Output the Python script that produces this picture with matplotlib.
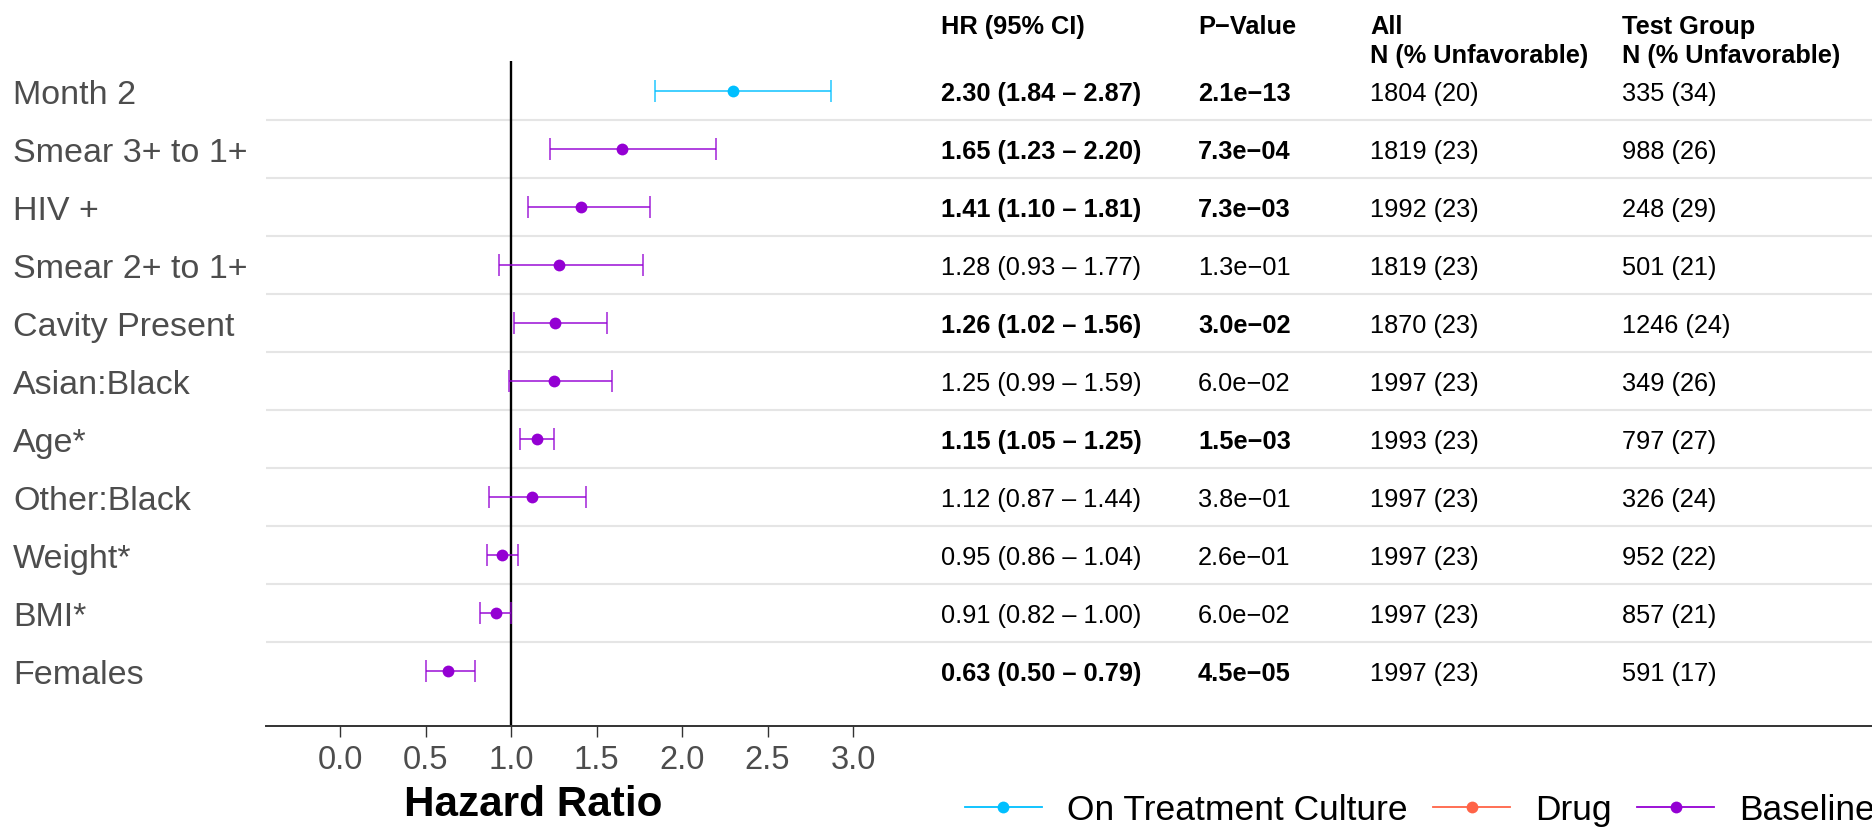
import matplotlib
matplotlib.use("Agg")
import matplotlib.pyplot as plt
from matplotlib.lines import Line2D
from matplotlib.transforms import blended_transform_factory

plt.rcParams["font.family"] = ["Liberation Sans", "DejaVu Sans"]

# ---- data -------------------------------------------------------------
variables = ["Month 2", "Smear 3+ to 1+", "HIV +", "Smear 2+ to 1+",
             "Cavity Present", "Asian:Black", "Age*", "Other:Black",
             "Weight*", "BMI*", "Females"]
groups = ["On Treatment Culture", "Baseline", "Baseline", "Baseline",
          "Baseline", "Baseline", "Baseline", "Baseline", "Baseline",
          "Baseline", "Baseline"]
hr = [2.30, 1.65, 1.41, 1.28, 1.26, 1.25, 1.15, 1.12, 0.95, 0.91, 0.63]
ci_low = [1.84, 1.23, 1.10, 0.93, 1.02, 0.99, 1.05, 0.87, 0.86, 0.82, 0.50]
ci_high = [2.87, 2.20, 1.81, 1.77, 1.56, 1.59, 1.25, 1.44, 1.04, 1.00, 0.79]
p_values = [2.1e-13, 7.3e-04, 7.3e-03, 1.3e-01, 3.0e-02, 6.0e-02,
            1.5e-03, 3.8e-01, 2.6e-01, 6.0e-02, 4.5e-05]
n_all = [1804, 1819, 1992, 1819, 1870, 1997, 1993, 1997, 1997, 1997, 1997]
pct_all = [20, 23, 23, 23, 23, 23, 23, 23, 23, 23, 23]
n_test = [335, 988, 248, 501, 1246, 349, 797, 326, 952, 857, 591]
pct_test = [34, 26, 29, 21, 24, 26, 27, 24, 22, 21, 17]

legend_groups = ["On Treatment Culture", "Drug", "Baseline"]
group_colors = {"On Treatment Culture": "#00BFFF",
                "Drug": "#FF6347",
                "Baseline": "#9400D3"}
x_ticks = [0.0, 0.5, 1.0, 1.5, 2.0, 2.5, 3.0]

# ---- figure layout (pixel based) -------------------------------------
W, H = 1872, 828
fig = plt.figure(figsize=(W / 100, H / 100), dpi=100)
left_px, right_px, top_px, bottom_px = 266, 1872, 62, 727
ax = fig.add_axes([left_px / W, 1 - bottom_px / H,
                   (right_px - left_px) / W, (bottom_px - top_px) / H])

x0_px, unit_px = 340.0, 171.0
ax.set_xlim((left_px - x0_px) / unit_px, (right_px - x0_px) / unit_px)
n = len(variables)
rows = list(range(n))
ax.set_ylim(n - 1 + 0.95, -0.52)

# row separators
for r in rows[:-1]:
    ax.axhline(r + 0.5, color="#e5e5e5", lw=1.5, zorder=1)

# reference line at HR = 1
ax.axvline(1.0, color="black", lw=1.7, zorder=2)

# confidence intervals and point estimates
for g in legend_groups:
    idx = [i for i in rows if groups[i] == g]
    if not idx:
        continue
    xs = [hr[i] for i in idx]
    ys = [rows[i] for i in idx]
    lo = [hr[i] - ci_low[i] for i in idx]
    hi = [ci_high[i] - hr[i] for i in idx]
    ax.errorbar(xs, ys, xerr=[lo, hi], fmt="none", ecolor=group_colors[g],
                elinewidth=1.3, capsize=8, capthick=1.2, alpha=0.8, zorder=3)
    ax.plot(xs, ys, "o", color=group_colors[g], ms=8.5, mew=0, zorder=4)

# axes styling
for s in ["top", "right", "left"]:
    ax.spines[s].set_visible(False)
ax.spines["bottom"].set_color("#333333")
ax.spines["bottom"].set_linewidth(1.4)
ax.set_xticks(x_ticks)
ax.set_xticklabels([f"{t:.1f}" for t in x_ticks])
ax.tick_params(axis="x", length=8, width=1.0, color="#333333",
               labelsize=23.5, labelcolor="#4d4d4d", pad=5)
ax.set_yticks(rows)
ax.set_yticklabels(variables)
ax.tick_params(axis="y", length=0, labelsize=24.5, labelcolor="#4d4d4d",
               pad=(left_px - 13) * 0.72)
for lab in ax.get_yticklabels():
    lab.set_horizontalalignment("left")

fig.text(533 / W, 1 - 805 / H, "Hazard Ratio", ha="center", va="center",
         fontsize=30.4, fontweight="bold", color="black")

# ---- table columns ----------------------------------------------------
trans = blended_transform_factory(fig.transFigure, ax.transData)
col_x = [941, 1198, 1370, 1622]
table_fs = 18.3
row_shift = 0.04


def fmt_p(p):
    return f"{p:.1e}".replace("-", "\u2212")


for i in rows:
    bold = p_values[i] < 0.05
    w = "bold" if bold else "normal"
    y = i + row_shift
    ax.text(col_x[0] / W, y, f"{hr[i]:.2f} ({ci_low[i]:.2f} \u2013 {ci_high[i]:.2f})",
            transform=trans, ha="left", va="center", fontsize=table_fs,
            fontweight=w, color="black")
    ax.text(col_x[1] / W, y, fmt_p(p_values[i]), transform=trans, ha="left",
            va="center", fontsize=table_fs, fontweight=w, color="black")
    ax.text(col_x[2] / W, y, f"{n_all[i]} ({pct_all[i]})", transform=trans,
            ha="left", va="center", fontsize=table_fs, color="black")
    ax.text(col_x[3] / W, y, f"{n_test[i]} ({pct_test[i]})", transform=trans,
            ha="left", va="center", fontsize=table_fs, color="black")

headers = [("HR (95% CI)", ""), ("P\u2212Value", ""),
           ("All", "N (% Unfavorable)"), ("Test Group", "N (% Unfavorable)")]
for x, (l1, l2) in zip(col_x, headers):
    fig.text(x / W, 1 - 27 / H, l1, ha="left", va="center",
             fontsize=table_fs, fontweight="bold")
    if l2:
        fig.text(x / W, 1 - 56 / H, l2, ha="left", va="center",
                 fontsize=table_fs, fontweight="bold")

# ---- legend -----------------------------------------------------------
handles = [Line2D([], [], color=group_colors[g], lw=1.3, marker="o", ms=8.5,
                  mew=0) for g in legend_groups]
fig.legend(handles, legend_groups, loc="center left",
           bbox_to_anchor=(965 / W, 1 - 811 / H), ncol=3, frameon=False,
           fontsize=25.5, handlelength=2.17, handletextpad=0.7,
           columnspacing=0.73, borderpad=0, borderaxespad=0)

fig.savefig("out.png", dpi=100)
